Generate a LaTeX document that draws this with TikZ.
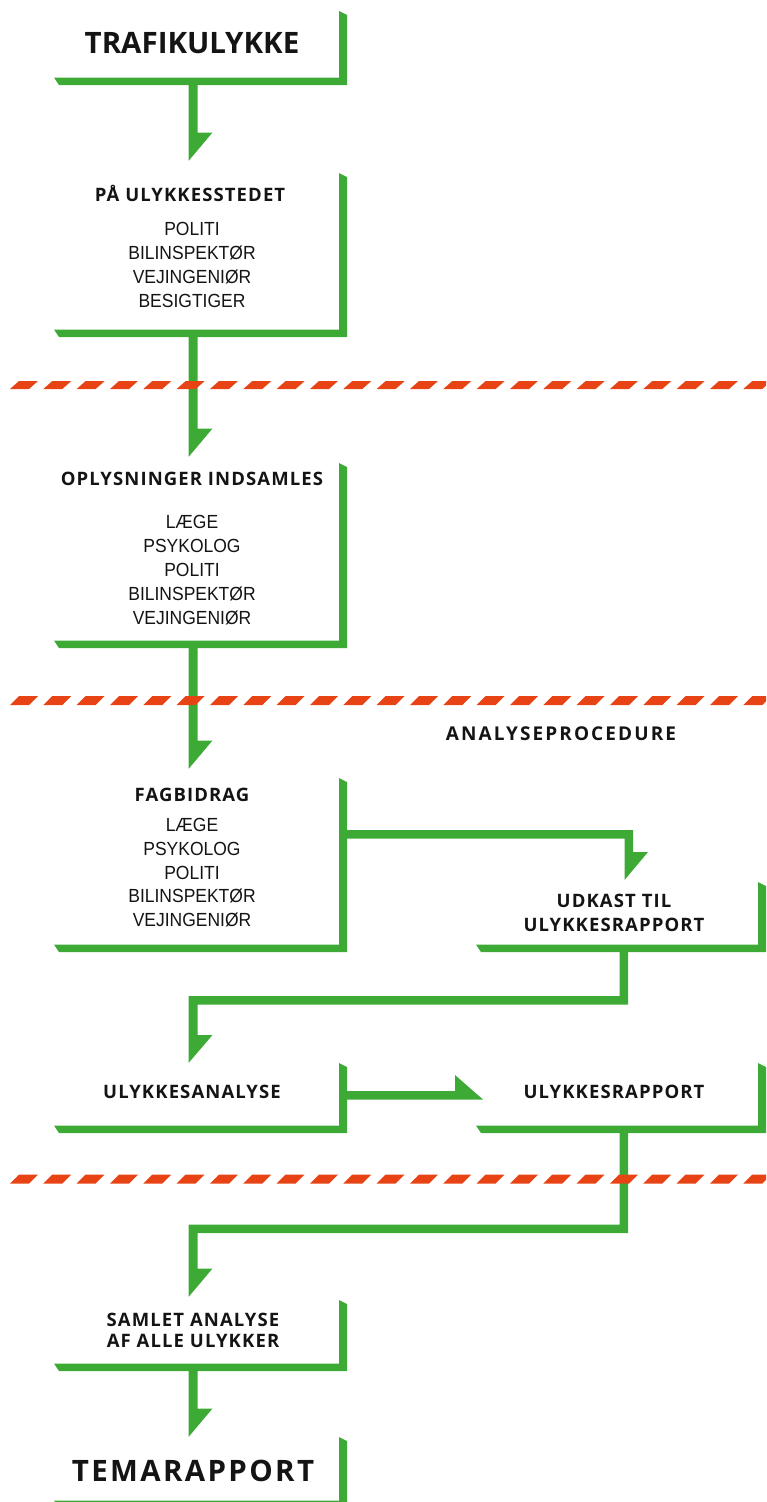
\documentclass[tikz,border=0pt]{standalone}
\usepackage{fontspec}
\setmainfont{Liberation Sans}
\newfontfamily\rgfont{Liberation Sans}[FakeStretch=0.92]
\newfontfamily\hdfont{Open Sans}[LetterSpace=6]
\newfontfamily\apfont{Open Sans}[LetterSpace=11]
\newfontfamily\bigfont{Open Sans}[LetterSpace=0]
\newfontfamily\bigwfont{Open Sans}[LetterSpace=8]
\definecolor{grn}{RGB}{61,170,53}
\definecolor{org}{RGB}{232,67,20}
\definecolor{ink}{RGB}{20,20,20}
\tikzset{
  hd/.style={anchor=base,inner sep=0pt,text=ink,font=\hdfont\bfseries\fontsize{18.5}{20}\selectfont},
  aphd/.style={anchor=base,inner sep=0pt,text=ink,font=\apfont\bfseries\fontsize{19}{20}\selectfont},
  big/.style={anchor=base,inner sep=0pt,text=ink,font=\bigfont\bfseries\fontsize{29.5}{34}\selectfont},
  bigw/.style={anchor=base,inner sep=0pt,text=ink,font=\bigwfont\bfseries\fontsize{29.5}{34}\selectfont},
  rg/.style={anchor=base,inner sep=0pt,text=ink,font=\rgfont\fontsize{19}{24}\selectfont},
  greenbar/.style={fill=grn},
  dashfill/.style={fill=org}
}
% box outline: #1 right x, #2 top y, #3 bottom y, #4 left x
\newcommand\flowbox[4]{%
  \fill[greenbar] (#1-8,#2) -- (#1,#2+4) -- (#1,#3) -- (#4+5,#3) -- (#4,#3-7.5) -- (#1-8,#3-7.5) -- cycle;}
% downward arrow: #1 left x of stem, #2 start y, #3 tip y
\newcommand\vflowarrow[3]{%
  \fill[greenbar] (#1,#2) -- (#1+9,#2) -- (#1+9,#3-28.5) -- (#1+24,#3-28.5) -- (#1,#3) -- cycle;}
\newcommand\dashrow[2]{%
  \foreach \k in {0,...,22} {\fill[dashfill] ({10+\k*33.333},#1) -- ++(19,0) -- ++(9,-#2) -- ++(-19,0) -- cycle;}}
\begin{document}
\begin{tikzpicture}[x=1pt,y=-1pt]
\useasboundingbox (0,0) rectangle (766,1502);
\clip (0,0) rectangle (766,1502);

% boxes
\flowbox{347}{11}{85}{54}
\flowbox{347}{173}{337}{54}
\flowbox{347}{463}{648}{54}
\flowbox{347}{778}{952}{54}
\flowbox{766}{882}{952}{476}
\flowbox{347}{1063}{1133}{54}
\flowbox{766}{1063}{1133}{476}
\flowbox{347}{1300}{1371}{54}
\flowbox{347}{1437}{1508}{54}

% connectors
\vflowarrow{188.5}{85}{161}
\vflowarrow{188.5}{337}{457}
\vflowarrow{188.5}{648}{769}
\fill[greenbar] (347,830) -- (633,830) -- (633,852) -- (648,852) -- (624.5,880) -- (624.5,838.5) -- (347,838.5) -- cycle;
\fill[greenbar] (619.5,952) -- (628,952) -- (628,1004.5) -- (197.5,1004.5) -- (197.5,1035) -- (212.5,1035) -- (188.5,1063) -- (188.5,996) -- (619.5,996) -- cycle;
\fill[greenbar] (347,1091) -- (455,1091) -- (455,1075) -- (483,1099.5) -- (347,1099.5) -- cycle;
\fill[greenbar] (619.5,1133) -- (628,1133) -- (628,1233) -- (197.5,1233) -- (197.5,1268.5) -- (212.5,1268.5) -- (188.5,1297) -- (188.5,1224.5) -- (619.5,1224.5) -- cycle;
\vflowarrow{188.5}{1371}{1437}

% texts
\node[big] (t1) at (192,53) {TRAFIKULYKKE};
\node[hd] (t2) at (190,201) {PÅ ULYKKESSTEDET};
\node[rg] (t2a) at (192,235) {POLITI};
\node[rg] (t2b) at (192,259) {BILINSPEKTØR};
\node[rg] (t2c) at (192,283) {VEJINGENIØR};
\node[rg] (t2d) at (192,307) {BESIGTIGER};
\node[hd] (t3) at (192,485) {OPLYSNINGER INDSAMLES};
\node[rg] (t3a) at (192,528) {LÆGE};
\node[rg] (t3b) at (192,552) {PSYKOLOG};
\node[rg] (t3c) at (192,576) {POLITI};
\node[rg] (t3d) at (192,600) {BILINSPEKTØR};
\node[rg] (t3e) at (192,624) {VEJINGENIØR};
\node[aphd] (ap) at (561,740) {ANALYSEPROCEDURE};
\node[hd] (t4) at (192,801) {FAGBIDRAG};
\node[rg] (t4a) at (192,831) {LÆGE};
\node[rg] (t4b) at (192,855) {PSYKOLOG};
\node[rg] (t4c) at (192,879) {POLITI};
\node[rg] (t4d) at (192,902) {BILINSPEKTØR};
\node[rg] (t4e) at (192,926) {VEJINGENIØR};
\node[hd] (t5a) at (614,907) {UDKAST TIL};
\node[hd] (t5b) at (614,931) {ULYKKESRAPPORT};
\node[hd] (t6) at (192,1098) {ULYKKESANALYSE};
\node[hd] (t7) at (614,1098) {ULYKKESRAPPORT};
\node[hd] (t8a) at (193,1326) {SAMLET ANALYSE};
\node[hd] (t8b) at (193,1347) {AF ALLE ULYKKER};
\node[bigw] (t9) at (193,1481) {TEMARAPPORT};

% barrier lines
\dashrow{389}{8}
\dashrow{705}{9}
\dashrow{1183.5}{9}
\end{tikzpicture}
\end{document}
